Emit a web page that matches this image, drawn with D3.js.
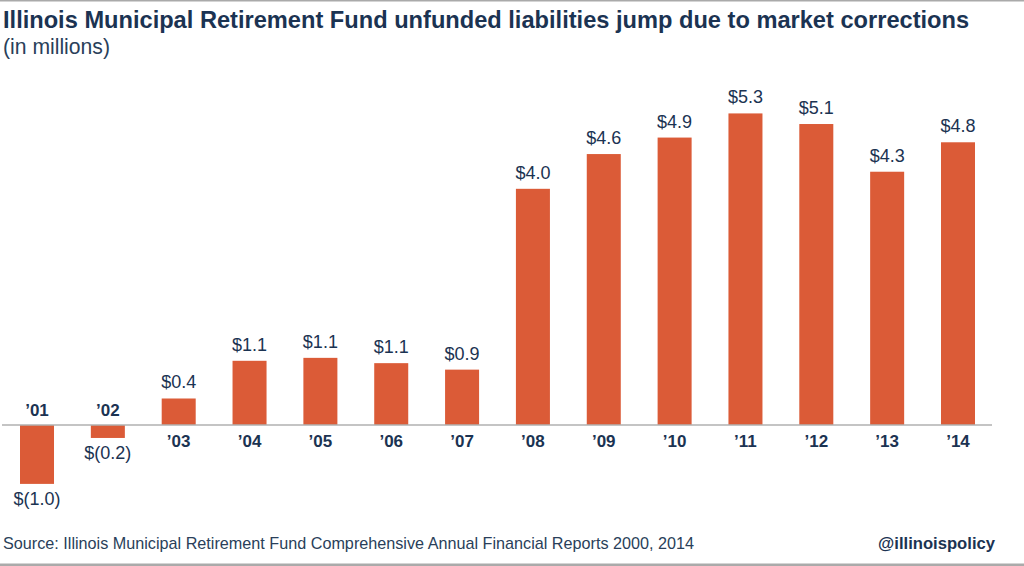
<!DOCTYPE html>
<html><head><meta charset="utf-8">
<script src="https://cdn.jsdelivr.net/npm/d3@7"></script>
<style>
html,body{margin:0;padding:0;background:#fff;}
svg{display:block;}
text{font-family:"Liberation Sans",Arial,sans-serif;}
</style></head>
<body>
<svg id="chart" width="1024" height="566"></svg>
<script>
const years = ["’01","’02","’03","’04","’05","’06","’07","’08","’09","’10","’11","’12","’13","’14"];
const values = [-1.0, -0.22, 0.45, 1.09, 1.14, 1.05, 0.94, 4.01, 4.6, 4.88, 5.29, 5.11, 4.3, 4.8];
const valueLabels = ["$(1.0)","$(0.2)","$0.4","$1.1","$1.1","$1.1","$0.9","$4.0","$4.6","$4.9","$5.3","$5.1","$4.3","$4.8"];
const titleText = "Illinois Municipal Retirement Fund unfunded liabilities jump due to market corrections";
const subtitleText = "(in millions)";
const sourceText = "Source: Illinois Municipal Retirement Fund Comprehensive Annual Financial Reports 2000, 2014";
const handleText = "@illinoispolicy";

const navy = "#1b3352";
const barColor = "#db5b37";
const svg = d3.select("#chart");

svg.append("rect").attr("x",0).attr("y",0).attr("width",1024).attr("height",1.5).attr("fill","#aaaaaa");
svg.append("rect").attr("x",0).attr("y",563.5).attr("width",1024).attr("height",2.5).attr("fill","#aaaaaa");

function fitText(sel, width){
  const len = sel.node().getComputedTextLength();
  const fs = parseFloat(sel.attr("font-size"));
  sel.attr("font-size", fs*width/len);
}

const title = svg.append("text").attr("x",3).attr("y",28).attr("font-size",24)
  .attr("font-weight","bold").attr("fill",navy).text(titleText);
fitText(title, 967);

const sub = svg.append("text").attr("x",3).attr("y",54).attr("font-size",21)
  .attr("fill","#2a3f5a").text(subtitleText);
fitText(sub, 107);

const x = d3.scaleBand().domain(years).range([20,975]).paddingInner(0.52).paddingOuter(0);
const k = 58.9, base = 425;
const y = d3.scaleLinear().domain([0,1]).range([base, base-k]);

svg.append("g").selectAll("rect").data(values).join("rect")
  .attr("x",(d,i)=>x(years[i]))
  .attr("width",x.bandwidth())
  .attr("y",d=>d>=0?y(d):y(0))
  .attr("height",d=>Math.abs(y(d)-y(0)))
  .attr("fill",barColor);

svg.append("line").attr("x1",2).attr("x2",992).attr("y1",y(0)).attr("y2",y(0))
  .attr("stroke","#b0b0b0").attr("stroke-width",1.5);

svg.append("g").selectAll("text").data(values).join("text")
  .attr("x",(d,i)=>x(years[i])+x.bandwidth()/2)
  .attr("y",d=>d>=0?y(0)+22:y(0)-9)
  .attr("text-anchor","middle").attr("font-size",17).attr("font-weight","bold")
  .attr("fill",navy).text((d,i)=>years[i]);

svg.append("g").selectAll("text").data(values).join("text")
  .attr("x",(d,i)=>x(years[i])+x.bandwidth()/2)
  .attr("y",d=>d>=0?y(d)-10:y(d)+21)
  .attr("text-anchor","middle").attr("font-size",18)
  .attr("fill",navy).text((d,i)=>valueLabels[i]);

const src = svg.append("text").attr("x",3).attr("y",549).attr("font-size",16)
  .attr("fill","#2a3f5a").text(sourceText);
fitText(src, 692);

const h = svg.append("text").attr("x",995).attr("y",549).attr("font-size",16)
  .attr("font-weight","bold").attr("text-anchor","end").attr("fill",navy).text(handleText);
fitText(h, 117);
</script>
</body></html>
